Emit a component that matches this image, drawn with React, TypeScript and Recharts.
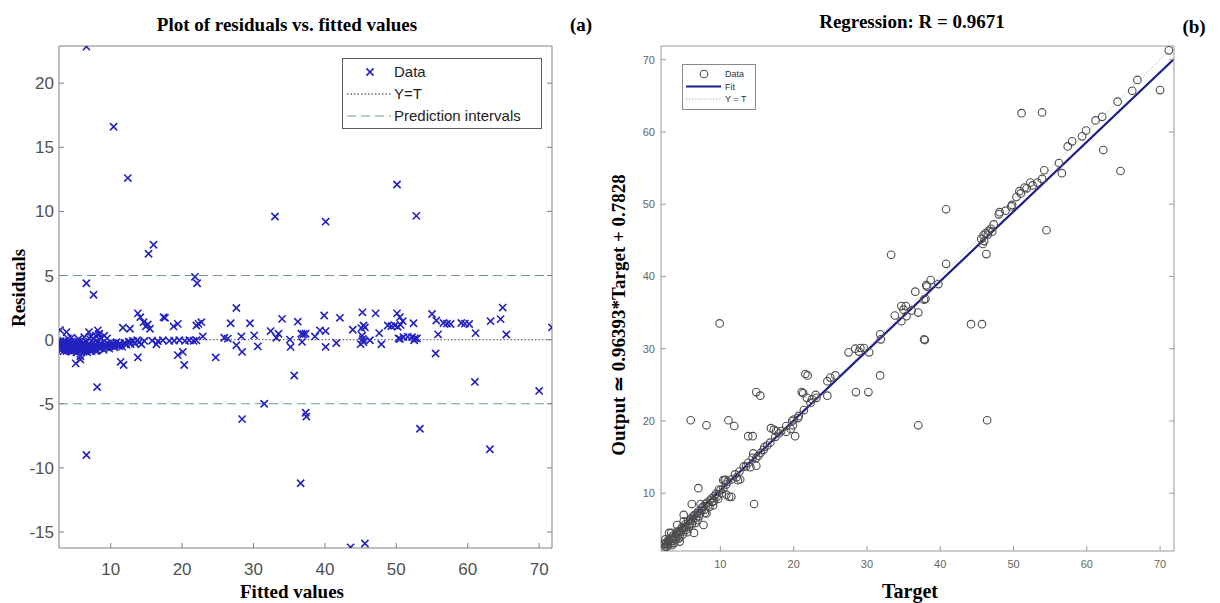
import React from 'react';
import { ScatterChart, Scatter, XAxis, YAxis, ReferenceLine } from 'recharts';

// ---- (a) residuals vs fitted values ----
const residualTicksX = [10, 20, 30, 40, 50, 60, 70];
const residualTicksY = [-15, -10, -5, 0, 5, 10, 15, 20];
const predictionBound = 5;

const residualOutliers: [number, number][] = [
  [6.6, 22.85], [10.4, 16.6], [12.4, 12.6], [50.1, 12.1], [33.0, 9.6], [40.1, 9.2],
  [52.8, 9.65], [15.3, 6.7], [16.0, 7.4], [6.6, 4.4], [7.6, 3.5], [21.8, 4.9],
  [22.1, 4.4], [8.1, -3.7], [35.7, -2.8], [61.0, -3.3], [70.0, -4.0], [6.6, -9.0],
  [28.4, -6.2], [31.5, -5.0], [37.3, -5.7], [37.4, -6.0], [36.6, -11.2], [53.3, -6.95],
  [63.1, -8.55], [43.6, -16.2], [45.6, -15.9],
];

const residualLowFitted: [number, number][] = [
  [13.8, 2.05], [14.15, 1.75], [14.6, 1.36], [14.9, 1.03], [15.2, 1.18], [15.5, 0.85],
  [13.8, -1.39], [17.4, 1.75], [17.6, 1.7], [18.8, 1.03], [19.4, 1.23], [19.4, -1.21],
  [20.1, -0.96], [20.3, -1.98], [22.0, 1.1], [22.3, 1.23], [22.7, 1.36], [22.9, 0.25],
  [22.0, -0.05], [14.3, -0.36], [14.7, -0.1], [16.4, -0.36], [11.4, -1.73], [11.8, -1.98],
  [11.7, 0.93], [12.7, 0.85], [5.1, -1.85], [5.75, -1.55], [5.75, -1.3], [3.8, 0.59],
  [2.9, 0.75], [6.95, 0.59], [8.2, 0.72], [8.4, 0.46],
  [15.8, -0.08], [16.6, -0.12], [17.3, -0.05], [18.2, -0.1], [18.9, -0.08], [19.6, -0.05],
  [20.4, -0.1], [21.0, -0.05], [21.6, -0.1],
];

const residualHighFitted: [number, number][] = [
  [24.7, -1.39], [25.9, 0.15], [26.4, 0.08], [26.8, 1.28], [27.6, 2.47], [27.6, -0.44],
  [28.3, 0.25], [28.4, -0.96], [29.5, 1.28], [30.1, 0.33], [30.6, -0.52], [32.4, 0.67],
  [33.2, 0.15], [33.5, 0.46], [34.0, 1.62], [35.1, 0.0], [35.2, -0.57], [36.2, 1.4],
  [36.7, 0.46], [37.0, 0.42], [37.3, 0.46], [36.8, -0.18], [38.6, 0.25], [39.3, 0.72],
  [39.9, 1.88], [40.1, 0.67], [40.1, -0.57], [41.6, -0.26], [42.1, 1.7], [43.9, 0.77],
  [45.25, 2.13], [45.1, 0.9], [45.4, 1.1], [45.6, 0.95], [45.2, 0.3], [45.3, 0.05],
  [45.4, -0.2], [45.0, -0.35], [46.3, -0.05], [47.1, 2.05], [47.6, 0.51], [47.9, -0.36],
  [48.8, 1.1], [49.3, 1.05], [49.8, 1.1], [50.2, 1.0], [50.6, 1.15], [50.1, 2.05],
  [50.5, 1.75], [50.9, 1.44], [50.3, 0.1], [50.5, 0.05], [51.0, 0.2], [51.6, 0.22],
  [52.2, 0.2], [52.6, 0.1], [52.9, 0.1], [52.5, -0.05], [52.4, 1.28], [55.0, 2.0],
  [55.6, 1.49], [55.85, 0.41], [55.5, -1.08], [56.6, 1.3], [57.1, 1.25], [57.6, 1.22],
  [59.1, 1.3], [59.6, 1.25], [60.2, 1.22], [61.1, 0.51], [63.2, 1.44], [64.6, 1.6],
  [64.9, 2.5], [65.4, 0.4], [71.8, 0.95],
];

const residualDenseBand: [number, number][] = [
  [2.9, -0.2], [3.0, -0.5], [3.1, -0.8], [3.2, -0.35], [3.3, -0.6], [3.4, -0.1], [3.5, -0.45],
  [3.6, -0.7], [3.7, -0.3], [3.8, -0.9], [3.9, -0.55], [4.0, 0.1], [4.1, -0.4], [4.2, -0.75],
  [4.3, -0.2], [4.4, -0.6], [4.5, -0.95], [4.6, -0.35], [4.7, -0.7], [4.8, -0.5], [4.9, -0.85],
  [5.0, -0.25], [5.1, -0.6], [5.2, -1.0], [5.3, -0.45], [5.4, -0.75], [5.5, -0.3], [5.6, -0.9],
  [5.7, -0.55], [5.8, -0.7], [5.9, -0.4], [6.0, -0.8], [6.1, -0.5], [6.2, -0.95], [6.3, -0.3],
  [6.4, -0.65], [6.5, -0.8], [6.6, -0.45], [6.7, -1.0], [6.8, -0.6], [6.9, -0.35], [7.0, -0.75],
  [7.2, -0.5], [7.3, -0.9], [7.5, -0.6], [7.6, -0.25], [7.8, -0.7], [8.0, -0.45], [8.1, -0.85],
  [8.3, -0.55], [8.5, -0.3], [8.6, -0.65], [8.8, -0.5], [7.2, 0.25], [7.6, 0.05], [8.6, 0.15],
  [9.1, 0.3], [9.0, -0.8], [9.2, -0.4], [9.4, -0.6], [9.6, -0.3], [9.8, -0.7], [10.0, -0.5],
  [10.3, -0.35], [10.5, -0.6], [10.8, -0.2], [11.0, -0.45], [11.3, -0.3], [11.6, -0.55],
  [11.9, -0.25], [12.2, -0.4], [12.5, -0.15], [12.8, -0.35], [13.1, -0.1], [13.4, -0.3],
  [13.7, -0.05], [14.0, -0.2],
  [3.0, -0.1], [3.2, -0.7], [3.4, -0.9], [3.6, -0.2], [3.8, -0.45], [4.0, -0.65], [4.2, -0.3],
  [4.4, -0.85], [4.6, -0.55], [4.8, -0.2], [5.0, -0.75], [5.2, -0.45], [5.4, -0.15], [5.6, -0.6],
  [5.8, -0.9], [6.0, -0.3], [6.2, -0.55], [6.4, -0.85], [6.6, -0.2], [6.8, -0.8], [7.0, -0.4],
  [7.4, -0.75], [7.7, -0.45], [7.9, -0.9], [8.2, -0.2], [8.4, -0.7], [8.7, -0.35], [9.3, -0.5],
  [9.7, -0.55], [10.1, -0.25], [10.6, -0.4], [11.2, -0.5], [12.0, -0.3], [12.7, -0.2],
  [7.0, 0.1], [7.9, 0.3], [8.3, 0.4], [9.5, 0.1], [6.3, 0.2], [5.5, 0.05], [4.5, 0.15],
];

// ---- (b) regression ----
const regressionTicks = [10, 20, 30, 40, 50, 60, 70];
const fitSlope = 0.96393;
const fitIntercept = 0.7828;
const regressionR = 0.9671;
const targetMin = 1.9;
const targetMax = 71.9;

const regressionUpper: [number, number][] = [
  [71.2, 71.3], [70.0, 65.8], [66.9, 67.2], [66.2, 65.7], [64.2, 64.2], [64.6, 54.6],
  [62.1, 62.1], [61.2, 61.6], [62.25, 57.5], [59.9, 60.2], [59.35, 59.4], [58.0, 58.7],
  [57.4, 58.0], [56.2, 55.7], [56.6, 54.3], [54.5, 46.4], [51.1, 62.6], [53.9, 62.7],
  [54.2, 54.7], [53.9, 53.5], [53.25, 53.0], [52.6, 52.6], [52.3, 53.0], [51.8, 52.2],
  [51.5, 52.3], [51.0, 51.5], [50.8, 51.8], [50.4, 51.0], [49.8, 49.9], [49.7, 49.7],
  [48.9, 49.1], [48.1, 48.9], [48.0, 48.6], [47.3, 47.2], [46.9, 46.6], [46.6, 46.3],
  [46.2, 46.0], [45.9, 45.7], [45.6, 45.2], [46.0, 44.9], [46.5, 45.8], [47.1, 46.2],
  [45.8, 44.5], [46.3, 43.1], [40.8, 49.3], [40.8, 41.75],
];

const regressionMiddle: [number, number][] = [
  [33.3, 43.0], [39.75, 38.95], [38.7, 39.5], [38.2, 38.6], [38.1, 38.8], [37.8, 36.8],
  [36.6, 37.9], [38.0, 36.9], [35.3, 35.9], [35.0, 35.4], [36.1, 35.3], [35.4, 34.5],
  [34.7, 33.8], [33.8, 34.6], [34.7, 35.9], [37.0, 35.0], [37.8, 31.3], [37.9, 31.2],
  [44.2, 33.4], [45.7, 33.4], [31.8, 32.0], [31.9, 31.3], [29.1, 30.1], [28.4, 30.0],
  [27.5, 29.5], [30.3, 29.5], [29.6, 30.1], [28.9, 29.6], [31.8, 26.3], [21.6, 26.5],
  [21.9, 26.3], [25.0, 26.0], [25.7, 26.3], [24.6, 25.5], [21.1, 24.0], [28.5, 24.0],
  [30.2, 24.0], [14.9, 24.0], [15.45, 23.5], [23.0, 23.6], [24.6, 23.5], [21.3, 23.85],
  [21.8, 23.2], [22.5, 23.0], [9.9, 33.5], [37.0, 19.4], [46.4, 20.1],
];

const regressionLower: [number, number][] = [
  [5.95, 20.1], [8.1, 19.4], [11.1, 20.1], [11.9, 19.3], [13.8, 17.9], [14.4, 17.9],
  [16.9, 19.0], [17.3, 18.8], [17.6, 18.6], [18.0, 18.3], [19.0, 18.5], [19.6, 18.9],
  [20.2, 17.9], [20.0, 20.2], [20.7, 20.7], [19.9, 19.4], [14.6, 8.5], [14.5, 15.5],
  [14.9, 13.8], [14.9, 14.9], [15.9, 16.0], [15.5, 15.6], [16.4, 16.6], [14.1, 13.6],
  [12.7, 11.9], [12.2, 12.2], [10.7, 11.85], [11.5, 9.5], [10.8, 9.8], [9.8, 10.5],
  [7.0, 10.7], [6.1, 8.5], [7.3, 8.5], [7.7, 5.6], [6.4, 4.5], [5.0, 7.0], [4.1, 5.6],
  [3.3, 4.5], [4.45, 3.3], [2.5, 2.6], [2.3, 2.4], [13.5, 13.7], [12.4, 11.8], [11.2, 9.5],
  [10.4, 11.8], [10.6, 11.8],
];

const regressionDiagonal: [number, number][] = [
  [2.4, 3.0], [2.6, 3.2], [2.8, 2.9], [3.0, 3.6], [3.1, 3.3], [3.3, 3.7], [3.5, 3.4],
  [3.6, 4.1], [3.8, 3.9], [4.0, 4.4], [4.2, 4.0], [4.4, 4.8], [4.6, 4.6], [4.8, 5.3],
  [5.0, 4.9], [5.2, 5.7], [5.4, 5.3], [5.6, 6.1], [5.8, 5.8], [6.0, 6.5], [6.2, 6.2],
  [6.5, 7.0], [6.7, 6.6], [7.0, 7.5], [7.2, 7.2], [7.5, 8.0], [7.8, 7.7], [8.0, 8.5],
  [8.3, 8.3], [8.6, 9.0], [8.9, 8.8], [9.2, 9.6], [9.5, 9.5], [10.0, 10.4], [10.4, 10.6],
  [11.0, 11.6], [11.5, 11.9], [12.0, 12.6], [12.6, 13.0], [13.2, 13.7], [13.8, 14.2],
  [14.4, 14.9], [15.2, 15.2], [16.0, 16.4], [16.8, 17.0], [17.5, 17.8], [18.3, 18.6],
  [19.0, 19.3], [19.8, 20.0], [20.6, 20.4], [21.4, 21.5], [22.3, 22.5], [23.1, 23.2],
  [2.2, 2.3], [3.4, 2.8], [4.5, 3.9], [5.5, 4.6], [3.7, 3.1], [6.6, 5.9], [8.1, 7.2],
  [9.0, 8.3],
  [2.3, 2.9], [2.7, 2.6], [2.9, 3.4], [3.2, 3.0], [3.4, 4.0], [3.9, 3.6], [4.1, 4.7],
  [4.3, 3.7], [4.7, 5.1], [4.9, 4.3], [5.1, 5.3], [5.3, 4.9], [5.7, 5.4], [5.9, 6.4],
  [6.1, 5.7], [6.3, 6.8], [6.8, 7.2], [6.9, 6.3], [7.1, 6.8], [7.4, 7.6], [7.7, 8.2],
  [7.9, 7.3], [8.2, 8.7], [8.5, 8.1], [8.8, 9.3], [9.1, 8.9], [9.4, 9.9], [9.7, 9.2],
  [10.2, 10.0], [10.8, 11.2], [2.5, 3.6], [3.0, 4.5], [5.0, 6.1],
];

const toPoints = (list: [number, number][]) => list.map(([x, y]) => ({ x, y }));

const residualData = toPoints([
  ...residualDenseBand, ...residualLowFitted, ...residualHighFitted, ...residualOutliers,
]);
const regressionData = toPoints([
  ...regressionDiagonal, ...regressionLower, ...regressionMiddle, ...regressionUpper,
]);

const serif = '"Liberation Serif", "Times New Roman", serif';
const sans = '"Liberation Sans", Arial, sans-serif';
const crossColor = '#2222c0';
const circleColor = '#4e4e4e';
const fitColor = '#1c1c8e';

const Cross = (props: any) => {
  const { cx, cy } = props;
  const s = 3.6;
  return (
    <path
      d={`M${cx - s},${cy - s}L${cx + s},${cy + s}M${cx - s},${cy + s}L${cx + s},${cy - s}`}
      stroke={crossColor}
      strokeWidth={1.6}
      fill="none"
    />
  );
};

const Ring = (props: any) => {
  const { cx, cy } = props;
  return <circle cx={cx} cy={cy} r={3.8} fill="none" stroke={circleColor} strokeWidth={1.1} />;
};

const Label = ({ text, x, y, size = 19, rotate = 0 }: { text: string; x: number; y: number; size?: number; rotate?: number }) => (
  <div
    style={{
      position: 'absolute',
      left: x,
      top: y,
      transform: `translate(-50%, -50%) rotate(${rotate}deg)`,
      fontFamily: serif,
      fontWeight: 'bold',
      fontSize: size,
      whiteSpace: 'nowrap',
      color: '#000',
    }}
  >
    {text}
  </div>
);

const blank = () => '';

const ResidualPlot = () => {
  const frame = '#808080';
  const tick = { fontSize: 17, fill: '#505050', fontFamily: sans };
  return (
    <div style={{ position: 'absolute', left: 0, top: 0 }}>
      <ScatterChart width={600} height={603} margin={{ top: 36, right: 38, bottom: 25, left: 9 }}>
        <XAxis
          type="number" dataKey="x" domain={[2.76, 71.8]} ticks={residualTicksX} allowDataOverflow
          height={30} tickSize={-5} tickMargin={20} tick={tick}
          axisLine={{ stroke: frame }} tickLine={{ stroke: frame }}
        />
        <XAxis
          xAxisId="top" orientation="top" type="number" domain={[2.76, 71.8]} ticks={residualTicksX}
          allowDataOverflow height={10} tickSize={-5} tickFormatter={blank}
          axisLine={{ stroke: frame }} tickLine={{ stroke: frame }}
        />
        <YAxis
          type="number" dataKey="y" domain={[-16.25, 22.9]} ticks={residualTicksY} allowDataOverflow
          width={50} tickSize={-5} tickMargin={10} tick={tick}
          axisLine={{ stroke: frame }} tickLine={{ stroke: frame }}
        />
        <YAxis
          yAxisId="right" orientation="right" type="number" domain={[-16.25, 22.9]} ticks={residualTicksY}
          allowDataOverflow width={10} tickSize={-5} tickFormatter={blank}
          axisLine={{ stroke: frame }} tickLine={{ stroke: frame }}
        />
        <ReferenceLine y={predictionBound} stroke="#6f96a2" strokeWidth={1.2} strokeDasharray="9 5" />
        <ReferenceLine y={-predictionBound} stroke="#6f96a2" strokeWidth={1.2} strokeDasharray="9 5" />
        <ReferenceLine y={0} stroke="#707070" strokeWidth={1.3} strokeDasharray="1.5 2" />
        <Scatter data={residualData} shape={Cross} isAnimationActive={false} />
      </ScatterChart>
      <div
        style={{
          position: 'absolute', left: 342, top: 58, width: 198, height: 69,
          border: '1px solid #5a5a5a', background: '#fff',
        }}
      >
        <svg width={198} height={69} style={{ display: 'block' }}>
          <Cross cx={27} cy={13} />
          <line x1={4} x2={48} y1={35} y2={35} stroke="#707070" strokeWidth={1.3} strokeDasharray="1.5 2" />
          <line x1={4} x2={48} y1={57} y2={57} stroke="#6f96a2" strokeWidth={1.2} strokeDasharray="9 5" />
          {[['Data', 13], ['Y=T', 35], ['Prediction intervals', 57]].map(([t, y]) => (
            <text key={t as string} x={51} y={y as number} dy="0.36em" fontFamily={sans} fontSize={15} fill="#222">
              {t}
            </text>
          ))}
        </svg>
      </div>
      <Label text="Plot of residuals vs. fitted values" x={287} y={25} />
      <Label text="(a)" x={581} y={25} />
      <Label text="Residuals" x={19} y={288} rotate={-90} />
      <Label text="Fitted values" x={292} y={592} />
    </div>
  );
};

const RegressionPlot = () => {
  const frame = '#9a9a9a';
  const tick = { fontSize: 11, fill: '#666', fontFamily: sans };
  const fitAt = (t: number) => fitSlope * t + fitIntercept;
  return (
    <div style={{ position: 'absolute', left: 600, top: 0 }}>
      <ScatterChart width={620} height={603} margin={{ top: 36, right: 36, bottom: 22, left: 21 }}>
        <XAxis
          type="number" dataKey="x" domain={[targetMin, targetMax]} ticks={regressionTicks} allowDataOverflow
          height={30} tickSize={-5} tickMargin={14} tick={tick}
          axisLine={{ stroke: frame }} tickLine={{ stroke: frame }}
        />
        <XAxis
          xAxisId="top" orientation="top" type="number" domain={[targetMin, targetMax]} ticks={regressionTicks}
          allowDataOverflow height={10} tickSize={-5} tickFormatter={blank}
          axisLine={{ stroke: frame }} tickLine={{ stroke: frame }}
        />
        <YAxis
          type="number" dataKey="y" domain={[2.0, 71.9]} ticks={regressionTicks} allowDataOverflow
          width={40} tickSize={-5} tickMargin={11} tick={tick}
          axisLine={{ stroke: frame }} tickLine={{ stroke: frame }}
        />
        <YAxis
          yAxisId="right" orientation="right" type="number" domain={[2.0, 71.9]} ticks={regressionTicks}
          allowDataOverflow width={10} tickSize={-5} tickFormatter={blank}
          axisLine={{ stroke: frame }} tickLine={{ stroke: frame }}
        />
        <Scatter data={regressionData} shape={Ring} isAnimationActive={false} />
        <ReferenceLine
          segment={[{ x: targetMin, y: targetMin }, { x: targetMax, y: targetMax }]}
          stroke="#b8b8b8" strokeWidth={1} strokeDasharray="1.5 1.5" ifOverflow="hidden"
        />
        <ReferenceLine
          segment={[{ x: targetMin, y: fitAt(targetMin) }, { x: targetMax, y: fitAt(targetMax) }]}
          stroke={fitColor} strokeWidth={2.2} ifOverflow="hidden"
        />
      </ScatterChart>
      <div
        style={{
          position: 'absolute', left: 82, top: 64, width: 72, height: 44,
          border: '1px solid #8a8a8a', background: '#fff',
        }}
      >
        <svg width={72} height={44} style={{ display: 'block' }}>
          <Ring cx={21} cy={9} />
          <line x1={3} x2={38} y1={21.5} y2={21.5} stroke={fitColor} strokeWidth={2} />
          <line x1={3} x2={38} y1={34} y2={34} stroke="#b8b8b8" strokeWidth={1} strokeDasharray="1.5 1.5" />
          {[['Data', 9], ['Fit', 21.5], ['Y = T', 34]].map(([t, y]) => (
            <text key={t as string} x={42} y={y as number} dy="0.36em" fontFamily={sans} fontSize={9} fill="#333">
              {t}
            </text>
          ))}
        </svg>
      </div>
      <Label text={`Regression: R = ${regressionR}`} x={312} y={22} />
      <Label text="(b)" x={594} y={27} />
      <Label text={`Output ≃ ${fitSlope}*Target + ${fitIntercept}`} x={18} y={315} rotate={-90} />
      <Label text="Target" x={310} y={591} size={20} />
    </div>
  );
};

export default function App() {
  return (
    <div style={{ position: 'absolute', left: 0, top: 0, width: 1220, height: 603, background: '#fff', overflow: 'hidden' }}>
      <ResidualPlot />
      <RegressionPlot />
    </div>
  );
}
